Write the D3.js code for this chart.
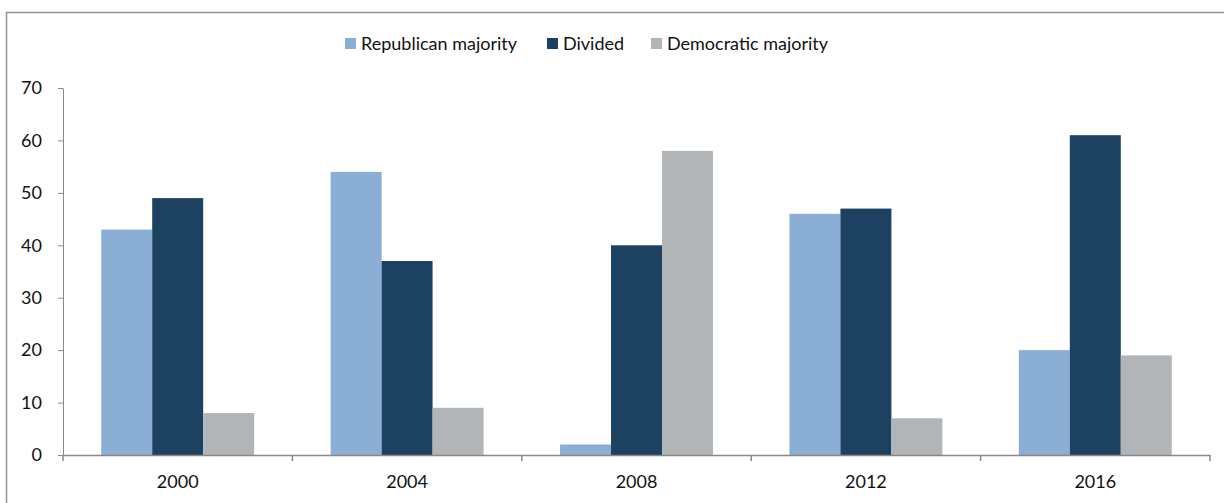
<!DOCTYPE html>
<html lang="en">
<head>
<meta charset="UTF-8">
<title>Congress majority chart</title>
<style>
  body { margin: 0; background: #fff; }
  svg text { font-family: Lato, "Open Sans", sans-serif; fill: #111; }
</style>
</head>
<body>
<svg id="chart"></svg>
<script src="https://d3js.org/d3.v7.min.js"></script>
<script>
// data
const years = ['2000', '2004', '2008', '2012', '2016'];
const seriesNames = ['Republican majority', 'Divided', 'Democratic majority'];
const republican = [43, 54, 2, 46, 20];
const divided = [49, 37, 40, 47, 61];
const democratic = [8, 9, 58, 7, 19];
const yTicks = [0, 10, 20, 30, 40, 50, 60, 70];

const colors = ['#8aaed4', '#1d4161', '#b2b5b7'];
const seriesValues = [republican, divided, democratic];

const width = 1224, height = 503;
const margin = { top: 88, left: 63, right: 14, bottom: 48 };

const svg = d3.select('#chart').attr('width', width).attr('height', height);

// outer frame (cut off at right and bottom like the source)
svg.append('path')
  .attr('d', `M6.5,${height + 5} L6.5,12.5 L${width + 5},12.5`)
  .attr('fill', 'none')
  .attr('stroke', '#8f9493')
  .attr('stroke-width', 1.5);

const x = d3.scaleBand()
  .domain(years)
  .range([margin.left, width - margin.right]);

// gap width 150% -> 3 bars + 1.5 bar gap per band
const barW = x.bandwidth() / 4.5;
const xInner = d3.scaleBand()
  .domain(seriesNames)
  .range([barW * 0.75, barW * 0.75 + barW * 3]);

const y = d3.scaleLinear()
  .domain([0, 70])
  .range([height - margin.bottom, margin.top]);

// bars
const groups = svg.append('g')
  .selectAll('g')
  .data(years)
  .join('g')
  .attr('transform', d => `translate(${x(d)},0)`);

groups.selectAll('rect')
  .data((d, i) => seriesNames.map((s, j) => ({ s, j, v: seriesValues[j][i] })))
  .join('rect')
  .attr('x', d => xInner(d.s))
  .attr('width', xInner.bandwidth())
  .attr('y', d => y(d.v))
  .attr('height', d => y(0) - y(d.v))
  .attr('fill', d => colors[d.j]);

// y axis
const yAxis = svg.append('g')
  .attr('transform', `translate(${margin.left},0)`)
  .call(d3.axisLeft(y).tickValues(yTicks).tickSize(5).tickPadding(16).tickSizeOuter(0));
yAxis.selectAll('text').style('font-size', '18px').attr('font-family', null);
yAxis.selectAll('line, path').attr('stroke', '#888');

// x axis: labels centred, ticks at band boundaries
const xAxis = svg.append('g')
  .attr('transform', `translate(0,${y(0)})`)
  .call(d3.axisBottom(x).tickSize(0).tickPadding(20).tickSizeOuter(0));
xAxis.selectAll('text').style('font-size', '18px').attr('font-family', null);
xAxis.selectAll('path').attr('stroke', '#888').attr('stroke-width', 1.5);

const bounds = years.map(d => x(d)).concat([x.range()[1]]);
xAxis.append('g')
  .selectAll('line')
  .data(bounds)
  .join('line')
  .attr('x1', d => d)
  .attr('x2', d => d)
  .attr('y1', 0)
  .attr('y2', 6)
  .attr('stroke', '#888')
  .attr('stroke-width', 1.5);

// legend
const legendX = [345, 547, 651];
const legend = svg.append('g')
  .selectAll('g')
  .data(seriesNames)
  .join('g')
  .attr('transform', (d, i) => `translate(${legendX[i]},38)`);
legend.append('rect')
  .attr('width', 11)
  .attr('height', 11)
  .attr('fill', (d, i) => colors[i]);
legend.append('text')
  .attr('x', 16)
  .attr('y', 6)
  .attr('dy', '0.35em')
  .style('font-size', '18px')
  .text(d => d);
</script>
</body>
</html>
